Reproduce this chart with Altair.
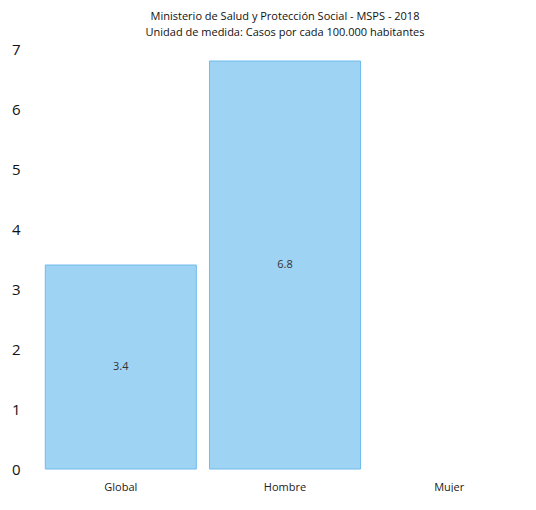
import altair as alt
import pandas as pd

categories = ["Global", "Hombre", "Mujer"]
values = [3.4, 6.8, None]
labels = ["3.4", "6.8", ""]

df = pd.DataFrame({"cat": categories, "val": values, "lab": labels})
df["mid"] = df["val"] / 2

x = alt.X("cat:N", sort=categories, title=None,
          scale=alt.Scale(paddingInner=0.08, paddingOuter=0.02),
          axis=alt.Axis(labelAngle=0, labelFontSize=11, labelColor="#222",
                        labelFont="Open Sans", ticks=False, domain=False,
                        labelPadding=12))

base = alt.Chart(df)

bars = base.mark_bar(fill="#9fd3f3", stroke="#6fbcec", strokeWidth=1).encode(
    x=x,
    y=alt.Y("val:Q", title=None,
            scale=alt.Scale(domain=[0, 7], nice=False),
            axis=alt.Axis(values=[0, 1, 2, 3, 4, 5, 6, 7], format="d", grid=False,
                          ticks=False, domain=False, labelFontSize=15,
                          labelColor="#111", labelFont="Open Sans",
                          labelPadding=22)),
)

text = base.transform_filter("datum.val != null").mark_text(
    fontSize=11, color="#333", font="Open Sans"
).encode(
    x=alt.X("cat:N", sort=categories),
    y=alt.Y("mid:Q"),
    text="lab:N",
)

chart = (bars + text).properties(
    width=486,
    height=420,
    title=alt.Title(
        ["Ministerio de Salud y Protección Social - MSPS - 2018",
         "Unidad de medida: Casos por cada 100.000 habitantes"],
        fontSize=11, fontWeight="normal", font="Open Sans", color="#111",
        lineHeight=16, offset=4,
    ),
    padding={"left": 3, "top": 3, "right": 0, "bottom": 0},
).configure_view(stroke=None)

chart.save("out.html", embed_options={"renderer": "svg", "actions": False})
